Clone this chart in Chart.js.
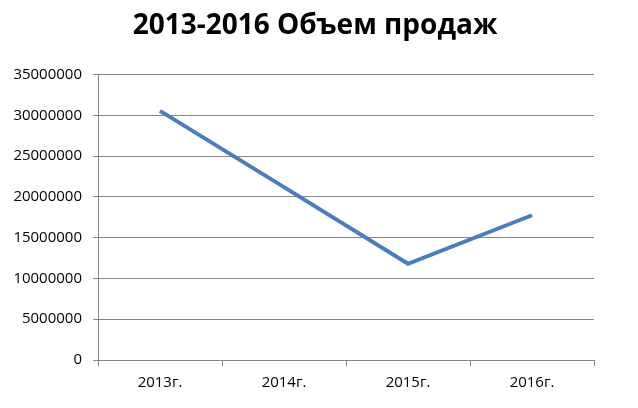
<!DOCTYPE html>
<html>
<head>
  <title>Объем продаж</title>
  <script src="https://cdn.jsdelivr.net/npm/chart.js"></script>
  <style>
    html, body {
        margin: 0;
        padding: 0;
        background: #fff;
    }
    #salesChart {
        display: block;
    }
  </style>
</head>
<body>
  <canvas id="salesChart" width="638" height="408"></canvas>

  <script>
    // данные
    const years = ['2013г.', '2014г.', '2015г.', '2016г.'];
    const sales = [30550000, 21200000, 11800000, 17750000];
    const yTicks = [0, 5000000, 10000000, 15000000, 20000000, 25000000, 30000000, 35000000];

    const gray = '#868686';
    const font = "'Open Sans', sans-serif";

    const ctx = document.getElementById('salesChart').getContext('2d');
    new Chart(ctx, {
        type: 'line',
        data: {
            labels: years,
            datasets: [{
                label: 'Объем продаж',
                data: sales,
                borderColor: '#4a7ebb',
                borderWidth: 4,
                pointRadius: 0,
                tension: 0,
                fill: false
            }]
        },
        options: {
            responsive: false,
            animation: false,
            layout: {
                padding: { left: 0, right: 8, top: 0, bottom: 0 }
            },
            scales: {
                x: {
                    offset: true,
                    afterFit: s => { s.height = 48; },
                    border: { color: gray, width: 1 },
                    grid: {
                        offset: true,
                        drawOnChartArea: false,
                        color: gray,
                        tickLength: 6
                    },
                    ticks: {
                        color: '#000',
                        padding: 8,
                        font: { family: font, size: 15 }
                    }
                },
                y: {
                    min: 0,
                    max: 35000000,
                    afterFit: s => { s.width = 98; },
                    afterBuildTicks: s => { s.ticks = yTicks.map(v => ({ value: v })); },
                    border: { color: gray, width: 1 },
                    grid: {
                        color: gray,
                        tickLength: 5
                    },
                    ticks: {
                        color: '#000',
                        padding: 11,
                        font: { family: font, size: 15 },
                        callback: v => String(v)
                    }
                },
                // пустое место справа, чтобы заголовок был по центру
                yRight: {
                    position: 'right',
                    min: 0,
                    max: 35000000,
                    afterFit: s => { s.width = 36; },
                    border: { display: false },
                    grid: { display: false },
                    ticks: { display: false }
                }
            },
            plugins: {
                legend: { display: false },
                tooltip: { enabled: false },
                title: {
                    display: true,
                    text: '2013-2016 Объем продаж',
                    color: '#000',
                    font: { family: font, size: 28, weight: 'bold', lineHeight: 1.2 },
                    padding: { top: 9, bottom: 32 }
                }
            }
        }
    });
  </script>
</body>
</html>
